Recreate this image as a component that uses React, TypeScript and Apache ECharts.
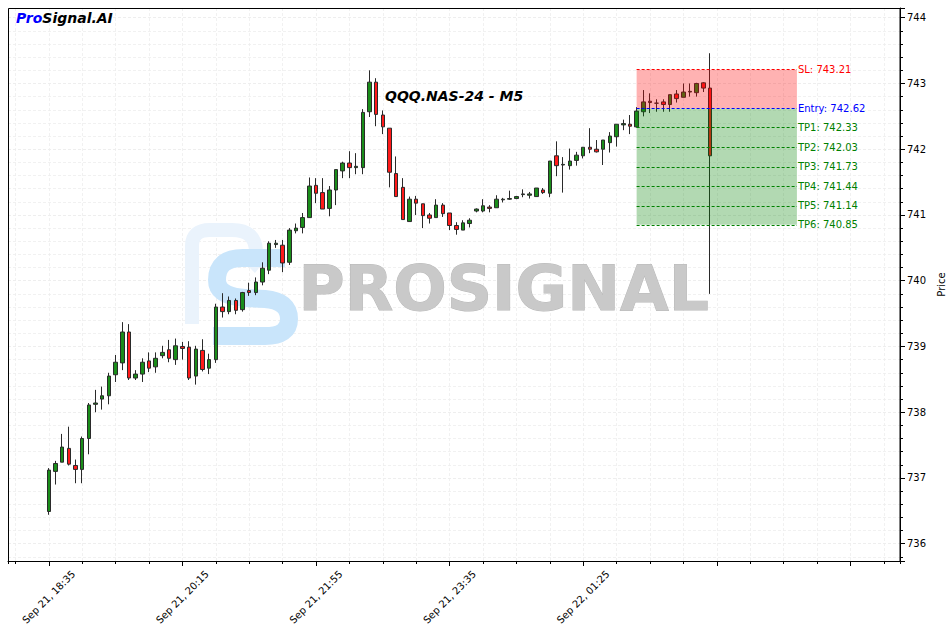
import React, { useEffect, useRef } from 'react';
import * as echarts from 'echarts';

// OHLC of the 100 M5 candles
const opens = [
  736.49, 737.10, 737.24, 737.45, 737.19, 737.13, 737.60, 738.12, 738.20, 738.25,
  738.57, 738.75, 739.22, 738.52, 738.58, 738.78, 738.69, 738.86, 738.95, 738.80,
  739.00, 738.99, 738.55, 738.94, 738.67, 738.80, 739.60, 739.53, 739.70, 739.56,
  739.85, 739.82, 739.98, 740.16, 740.55, 740.54, 740.28, 740.76, 740.81, 740.96,
  741.45, 741.34, 741.10, 741.38, 741.67, 741.79, 741.72, 741.72, 742.57, 743.02,
  742.52, 742.32, 741.63, 741.42, 740.90, 741.24, 741.17, 741.00, 740.96, 741.15,
  741.03, 740.84, 740.77, 740.87, 741.06, 741.06, 741.12, 741.11, 741.23, 741.24,
  741.25, 741.31, 741.30, 741.28, 741.38, 741.33, 741.90, 741.76, 741.75, 741.83,
  741.90, 742.03, 742.00, 742.00, 742.10, 742.19, 742.37, 742.38, 742.34, 742.57,
  742.73, 742.70, 742.72, 742.68, 742.84, 742.79, 742.87, 742.86, 743.01, 742.93,
];
const closes = [
  737.12, 737.22, 737.47, 737.21, 737.13, 737.60, 738.11, 738.14, 738.25, 738.55,
  738.76, 739.22, 738.52, 738.58, 738.76, 738.67, 738.82, 738.91, 738.82, 739.01,
  738.97, 738.52, 738.96, 738.65, 738.80, 739.60, 739.53, 739.70, 739.55, 739.82,
  739.82, 739.98, 740.19, 740.57, 740.57, 740.27, 740.77, 740.80, 740.96, 741.44,
  741.33, 741.09, 741.38, 741.69, 741.79, 741.72, 741.74, 742.56, 743.02, 742.53,
  742.34, 741.65, 741.28, 740.93, 741.24, 741.18, 740.99, 740.95, 741.15, 741.02,
  740.84, 740.78, 740.88, 740.92, 741.09, 741.14, 741.10, 741.24, 741.24, 741.25,
  741.28, 741.32, 741.32, 741.41, 741.34, 741.82, 741.75, 741.77, 741.82, 741.91,
  742.03, 742.00, 741.96, 742.14, 742.20, 742.38, 742.39, 742.35, 742.58, 742.72,
  742.71, 742.70, 742.68, 742.83, 742.77, 742.87, 742.88, 743.00, 742.93, 741.90,
];
const lows = [
  736.44, 736.90, 737.24, 737.19, 736.92, 736.92, 737.36, 738.00, 738.04, 738.12,
  738.46, 738.64, 738.49, 738.49, 738.46, 738.61, 738.60, 738.82, 738.76, 738.72,
  738.80, 738.49, 738.42, 738.62, 738.58, 738.75, 739.44, 739.49, 739.49, 739.53,
  739.77, 739.78, 739.93, 740.10, 740.50, 740.13, 740.24, 740.72, 740.72, 740.96,
  741.18, 741.09, 740.98, 741.15, 741.56, 741.56, 741.62, 741.62, 742.49, 742.35,
  742.23, 741.42, 741.28, 740.93, 740.90, 741.00, 740.80, 740.87, 740.96, 740.97,
  740.77, 740.70, 740.77, 740.81, 741.04, 741.04, 741.04, 741.11, 741.19, 741.23,
  741.24, 741.27, 741.25, 741.28, 741.32, 741.27, 741.59, 741.34, 741.69, 741.75,
  741.86, 741.94, 741.95, 741.76, 741.95, 742.04, 742.29, 742.23, 742.33, 742.50,
  742.55, 742.57, 742.57, 742.57, 742.71, 742.79, 742.80, 742.80, 742.87, 739.80,
];
const highs = [
  737.15, 737.26, 737.67, 737.78, 737.28, 737.63, 738.14, 738.34, 738.39, 738.60,
  738.87, 739.37, 739.34, 738.64, 738.82, 738.91, 738.91, 739.01, 739.10, 739.12,
  739.07, 739.08, 739.01, 739.11, 738.89, 739.65, 739.81, 739.76, 739.73, 739.83,
  739.97, 740.05, 740.28, 740.60, 740.62, 740.62, 740.80, 740.87, 741.03, 741.57,
  741.56, 741.56, 741.44, 741.69, 741.81, 741.97, 741.94, 742.61, 743.20, 743.08,
  742.59, 742.32, 741.89, 741.56, 741.28, 741.29, 741.17, 741.03, 741.24, 741.18,
  741.03, 740.89, 740.92, 740.95, 741.10, 741.24, 741.15, 741.30, 741.26, 741.37,
  741.29, 741.39, 741.35, 741.41, 741.41, 741.82, 742.12, 741.88, 742.01, 741.96,
  742.03, 742.32, 742.14, 742.14, 742.26, 742.38, 742.45, 742.52, 742.64, 742.90,
  742.85, 742.76, 742.76, 742.83, 742.90, 743.00, 743.00, 743.01, 743.02, 743.46,
];

// x tick labels (at candle indices)
const tickLabels = ['Sep 21, 18:35', 'Sep 21, 20:15', 'Sep 21, 21:55', 'Sep 21, 23:35', 'Sep 22, 01:25'];
const tickCandles = [0, 20, 40, 60, 80];

// trade levels
const levelNames = ['SL', 'Entry', 'TP1', 'TP2', 'TP3', 'TP4', 'TP5', 'TP6'];
const levelValues = [743.21, 742.62, 742.33, 742.03, 741.73, 741.44, 741.14, 740.85];
const levelColors = ['#ff0000', '#0000ff', '#008000', '#008000', '#008000', '#008000', '#008000', '#008000'];
const signalFrom = 88;
const signalTo = 112;

// axis ranges (candle index / price)
const xMin = -6.11;
const xMax = 127.43;
const yMin = 735.737;
const yMax = 744.148;

const S_PATH = 'M80 10 L38 10 Q12 10 12 32 Q12 48 40 50 L60 51 Q84 53 84 71 Q84 88 60 88 L8 88';
const P_PATH = 'M10 100 L10 22 Q10 6 28 6 L50 6 Q74 6 74 28 Q74 38 68 44';
echarts.graphic.registerShape('logoS', echarts.graphic.extendPath(S_PATH, {}));
echarts.graphic.registerShape('logoP', echarts.graphic.extendPath(P_PATH, {}));

export default function App() {
  const ref = useRef<HTMLDivElement>(null);
  useEffect(() => {
    if (!ref.current) return;
    const chart = echarts.init(ref.current, undefined, { renderer: 'svg' });
    const candleData = opens.map((o, k) => [k, o, closes[k], lows[k], highs[k]]);
    const labelAt: Record<number, string> = {};
    tickCandles.forEach((c, j) => { labelAt[c] = tickLabels[j]; });
    const gridLine = { show: true, lineStyle: { color: '#eeeeee', type: [3, 2], width: 0.8 } };

    chart.setOption({
      animation: false,
      textStyle: { fontFamily: 'DejaVu Sans' },
      grid: {
        left: 8, top: 8, width: 892, height: 553, show: false,
        outerBoundsMode: 'none', containLabel: false,
      },
      xAxis: [
        {
          type: 'value', min: xMin, max: xMax, splitNumber: 7, position: 'bottom',
          axisLine: { show: true, onZero: false, lineStyle: { color: '#000', width: 1 } },
          axisTick: { show: true, length: 5, lineStyle: { color: '#000' } },
          axisLabel: {
            showMinLabel: false, showMaxLabel: false,
            formatter: (v: number) => labelAt[Math.round(v)] !== undefined && Math.abs(v - Math.round(v)) < 1e-6 ? labelAt[Math.round(v)] : '',
            rotate: 45, margin: 36, align: 'center', verticalAlign: 'middle',
            fontSize: 10, color: '#000',
          },
          splitLine: { show: false },
        },
        {
          type: 'value', min: xMin, max: xMax, splitNumber: 27, position: 'bottom',
          axisLine: { show: false, onZero: false },
          axisTick: { show: true, length: 3, lineStyle: { color: '#000' } },
          axisLabel: { show: false },
          splitLine: gridLine,
        },
      ],
      yAxis: [
        {
          type: 'value', position: 'right', min: yMin, max: yMax, splitNumber: 8, scale: true,
          axisLine: { show: true, onZero: false, lineStyle: { color: '#000' } },
          axisTick: { show: true, length: 5, lineStyle: { color: '#000' } },
          axisLabel: {
            margin: 7, fontSize: 10, color: '#000',
            formatter: (v: number) => (Math.abs(v - Math.round(v)) < 1e-6 ? String(Math.round(v)) : ''),
          },
          splitLine: gridLine,
          name: 'Price', nameLocation: 'middle', nameRotate: 90, nameGap: 32,
          nameTextStyle: { fontSize: 10, color: '#000' },
        },
        {
          type: 'value', position: 'right', min: yMin, max: yMax, splitNumber: 42, scale: true,
          axisLine: { show: false, onZero: false },
          axisTick: { show: true, length: 3, lineStyle: { color: '#000' } },
          axisLabel: { show: false },
          splitLine: gridLine,
        },
      ],
      graphic: [
        { type: 'logoP', x: 182, y: 224, z: 1, style: { fill: 'none', stroke: '#eaf3fc', lineWidth: 14 } },
        { type: 'logoS', x: 205, y: 248, z: 1, style: { fill: 'none', stroke: '#c9e5fb', lineWidth: 18 } },
        {
          type: 'text', left: 298, top: 256, z: 1,
          style: {
            text: 'PROSIGNAL', fontSize: 63, fontWeight: 'bold', fontFamily: 'DejaVu Sans',
            fill: '#c9c9c9', stroke: '#b8b8b8', lineWidth: 1,
          },
        },
        {
          type: 'rect', z: 40, silent: true,
          shape: { x: 8.5, y: 8.5, width: 891.5, height: 553 },
          style: { fill: 'none', stroke: '#000', lineWidth: 1 },
        },
        {
          type: 'text', left: 16, top: 11, z: 50,
          style: {
            text: '{a|Pro}{b|Signal.AI}',
            rich: {
              a: { fontSize: 14, fontWeight: 'bold', fontStyle: 'italic', fill: '#0000ff', fontFamily: 'DejaVu Sans' },
              b: { fontSize: 14, fontWeight: 'bold', fontStyle: 'italic', fill: '#000', fontFamily: 'DejaVu Sans' },
            },
          },
        },
        {
          type: 'text', left: 385, top: 89, z: 50,
          style: { text: 'QQQ.NAS-24 - M5', fontSize: 14, fontWeight: 'bold', fontStyle: 'italic', fill: '#000', fontFamily: 'DejaVu Sans' },
        },
      ],
      series: [
        {
          type: 'candlestick', xAxisIndex: 0, yAxisIndex: 0, data: candleData, barWidth: 4, z: 5,
          encode: { x: 0, y: [1, 2, 3, 4] },
          itemStyle: { color: '#1a8d1a', color0: '#ff1a1a', borderColor: '#2a2a2a', borderColor0: '#2a2a2a', borderWidth: 1 },
          markArea: {
            silent: true, z: 10,
            data: [
              [{ xAxis: signalFrom, yAxis: levelValues[0], itemStyle: { color: 'rgba(255,0,0,0.3)' } }, { xAxis: signalTo, yAxis: levelValues[1] }],
              [{ xAxis: signalFrom, yAxis: levelValues[1], itemStyle: { color: 'rgba(0,128,0,0.3)' } }, { xAxis: signalTo, yAxis: levelValues[7] }],
            ],
          },
          markLine: {
            silent: true, z: 11, symbol: ['none', 'none'],
            data: levelValues.map((v, i) => [
              {
                coord: [signalFrom, v],
                lineStyle: { color: levelColors[i], type: [3, 2], width: 1 },
                label: { show: true, position: 'end', distance: 1, formatter: `${levelNames[i]}: ${v.toFixed(2)}`, color: levelColors[i], fontSize: 10 },
              },
              { coord: [signalTo, v] },
            ]),
          },
        },
      ],
    });
    return () => chart.dispose();
  }, []);
  return <div ref={ref} style={{ position: 'absolute', left: 0, top: 0, width: 947, height: 632 }} />;
}
